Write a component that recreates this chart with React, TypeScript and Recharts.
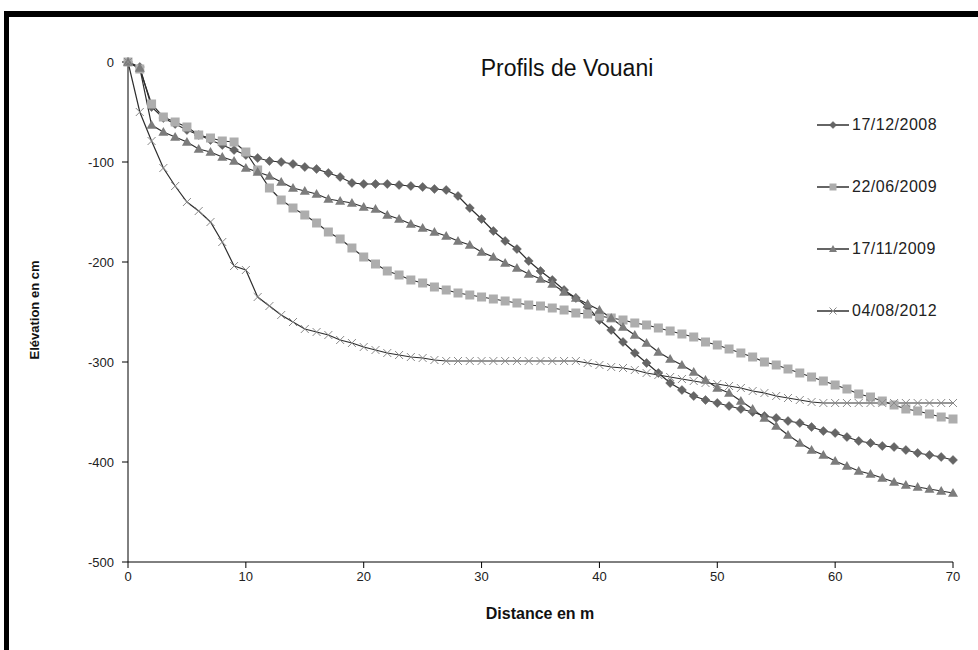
import React from 'react';
import { LineChart, Line, XAxis, YAxis } from 'recharts';

// Distance along the profile (m)
const distances = [
  0, 1, 2, 3, 4, 5, 6, 7, 8, 9, 10, 11, 12, 13, 14, 15, 16, 17, 18, 19, 20,
  21, 22, 23, 24, 25, 26, 27, 28, 29, 30, 31, 32, 33, 34, 35, 36, 37, 38, 39, 40,
  41, 42, 43, 44, 45, 46, 47, 48, 49, 50, 51, 52, 53, 54, 55, 56, 57, 58, 59, 60,
  61, 62, 63, 64, 65, 66, 67, 68, 69, 70,
];

// Elevation (cm) per survey date
const p20081217 = [
  0, -5, -45, -56, -62, -68, -73, -78, -83, -88, -93,
  -96, -99, -100, -102, -105, -107, -111, -115, -121, -122,
  -122, -122, -123, -124, -125, -127, -128, -134, -146, -157,
  -169, -179, -187, -199, -209, -218, -228, -236, -245, -258,
  -268, -280, -291, -301, -311, -321, -328, -334, -338, -341,
  -344, -347, -350, -354, -356, -359, -361, -365, -369, -371,
  -375, -379, -381, -384, -385, -388, -391, -393, -395, -398,
];

const p20090622 = [
  0, -7, -42, -55, -60, -65, -73, -76, -79, -80, -90,
  -108, -126, -138, -146, -153, -161, -170, -177, -186, -195,
  -202, -209, -213, -218, -221, -225, -228, -231, -233, -235,
  -237, -239, -241, -243, -244, -246, -248, -251, -252, -254,
  -256, -258, -261, -263, -266, -269, -272, -275, -280, -283,
  -287, -291, -295, -300, -303, -307, -311, -315, -319, -323,
  -327, -332, -335, -339, -343, -347, -349, -352, -355, -357,
];

const p20091117 = [
  0, -6, -63, -70, -75, -80, -87, -90, -95, -99, -106,
  -110, -114, -120, -126, -129, -132, -137, -139, -141, -145,
  -147, -153, -157, -162, -166, -170, -174, -179, -183, -190,
  -195, -201, -206, -212, -217, -222, -230, -236, -242, -248,
  -256, -265, -273, -281, -290, -297, -303, -310, -318, -326,
  -331, -339, -347, -356, -364, -373, -381, -388, -393, -399,
  -404, -409, -412, -416, -420, -423, -425, -427, -429, -431,
];

const p20120804 = [
  0, -50, -79, -106, -124, -140, -149, -160, -180, -204, -208,
  -235, -244, -253, -260, -267, -270, -273, -278, -281, -285,
  -288, -291, -293, -295, -296, -298, -299, -299, -299, -299,
  -299, -299, -299, -299, -299, -299, -299, -299, -301, -303,
  -305, -306, -308, -311, -313, -315, -317, -319, -321, -322,
  -324, -326, -329, -331, -334, -336, -338, -340, -341, -341,
  -341, -341, -341, -341, -341, -341, -341, -341, -341, -341,
];

const xTicks = [0, 10, 20, 30, 40, 50, 60, 70];
const yTicks = [-500, -400, -300, -200, -100, 0];

const seriesNames = ['17/12/2008', '22/06/2009', '17/11/2009', '04/08/2012'];

const FONT = '"Liberation Sans", Arial, sans-serif';
const LINE_COLOR = '#2e2e2e';

const rows = distances.map((d, i) => ({
  d,
  a: p20081217[i],
  b: p20090622[i],
  c: p20091117[i],
  e: p20120804[i],
}));

function diamond(cx: number, cy: number, r: number, key?: any) {
  return (
    <path
      key={key}
      d={`M${cx},${cy - r}L${cx + r},${cy}L${cx},${cy + r}L${cx - r},${cy}Z`}
      fill="#656565"
      stroke="#5a5a5a"
      strokeWidth={0.5}
    />
  );
}

function square(cx: number, cy: number, r: number, key?: any) {
  return <rect key={key} x={cx - r} y={cy - r} width={r * 2} height={r * 2} fill="#adadad" />;
}

function triangle(cx: number, cy: number, r: number, key?: any) {
  return (
    <path
      key={key}
      d={`M${cx},${cy - r}L${cx + r},${cy + r * 0.75}L${cx - r},${cy + r * 0.75}Z`}
      fill="#7c7c7c"
    />
  );
}

function cross(cx: number, cy: number, r: number, key?: any) {
  return (
    <path
      key={key}
      d={`M${cx - r},${cy - r}L${cx + r},${cy + r}M${cx - r},${cy + r}L${cx + r},${cy - r}`}
      stroke="#8a8a8a"
      strokeWidth={1}
      fill="none"
    />
  );
}

const markers = [diamond, square, triangle, cross];
const markerSizes = [4.5, 4.5, 5, 4];

function makeDot(idx: number) {
  return (props: any) => {
    const { cx, cy, index } = props;
    if (cx == null || cy == null) return <g key={index} />;
    return markers[idx](cx, cy, markerSizes[idx], index);
  };
}

function LegendBox() {
  const tops = [125, 187, 249, 311];
  return (
    <>
      {seriesNames.map((name, i) => (
        <div
          key={name}
          style={{
            position: 'absolute',
            left: 816,
            top: tops[i] - 10,
            height: 20,
            display: 'flex',
            alignItems: 'center',
            fontFamily: FONT,
            fontSize: 16,
            letterSpacing: 0.5,
            color: '#222',
          }}
        >
          <svg width={34} height={20} style={{ marginRight: 2 }}>
            <line x1={1} y1={10} x2={33} y2={10} stroke="#111" strokeWidth={1.3} />
            {markers[i](17, 10, i === 2 ? 4 : 3.5)}
          </svg>
          <span>{name}</span>
        </div>
      ))}
    </>
  );
}

export default function App() {
  return (
    <div
      style={{
        position: 'fixed',
        left: 0,
        top: 0,
        width: 978,
        height: 650,
        background: '#fff',
        overflow: 'hidden',
      }}
    >
      <div
        style={{
          position: 'absolute',
          left: 4,
          top: 11,
          right: -10,
          height: 660,
          borderTop: '6px solid #000',
          borderLeft: '5px solid #000',
        }}
      />
      <LineChart
        width={978}
        height={650}
        data={rows}
        margin={{ top: 62, right: 25, bottom: 58, left: 68 }}
        style={{ position: 'absolute', left: 0, top: 0 }}
      >
        <XAxis
          dataKey="d"
          type="number"
          domain={[0, 70]}
          ticks={xTicks}
          height={30}
          tickSize={6}
          tickMargin={4}
          axisLine={{ stroke: '#000' }}
          tickLine={{ stroke: '#000' }}
          tick={{ fill: '#222', fontSize: 13, fontFamily: FONT }}
        />
        <YAxis
          type="number"
          domain={[-500, 0]}
          ticks={yTicks}
          width={60}
          tickSize={6}
          tickMargin={8}
          axisLine={{ stroke: '#000' }}
          tickLine={{ stroke: '#000' }}
          tick={{ fill: '#222', fontSize: 13, fontFamily: FONT }}
        />
        <Line dataKey="a" name={seriesNames[0]} stroke={LINE_COLOR} strokeWidth={1.2} dot={makeDot(0)} activeDot={false} isAnimationActive={false} />
        <Line dataKey="b" name={seriesNames[1]} stroke={LINE_COLOR} strokeWidth={1.2} dot={makeDot(1)} activeDot={false} isAnimationActive={false} />
        <Line dataKey="c" name={seriesNames[2]} stroke={LINE_COLOR} strokeWidth={1.2} dot={makeDot(2)} activeDot={false} isAnimationActive={false} />
        <Line dataKey="e" name={seriesNames[3]} stroke={LINE_COLOR} strokeWidth={1.2} dot={makeDot(3)} activeDot={false} isAnimationActive={false} />
      </LineChart>

      <div
        style={{
          position: 'absolute',
          left: 440,
          width: 254,
          top: 55,
          textAlign: 'center',
          fontFamily: FONT,
          fontSize: 23,
          color: '#111',
        }}
      >
        Profils de Vouani
      </div>

      <div
        style={{
          position: 'absolute',
          left: 440,
          width: 200,
          top: 605,
          textAlign: 'center',
          fontFamily: FONT,
          fontSize: 16,
          fontWeight: 'bold',
          color: '#111',
        }}
      >
        Distance en m
      </div>

      <div
        style={{
          position: 'absolute',
          left: 35 - 80,
          top: 310 - 10,
          width: 160,
          height: 20,
          lineHeight: '20px',
          textAlign: 'center',
          transform: 'rotate(-90deg)',
          fontFamily: FONT,
          fontSize: 13,
          fontWeight: 'bold',
          color: '#111',
        }}
      >
        Elévation en cm
      </div>

      <LegendBox />
    </div>
  );
}
